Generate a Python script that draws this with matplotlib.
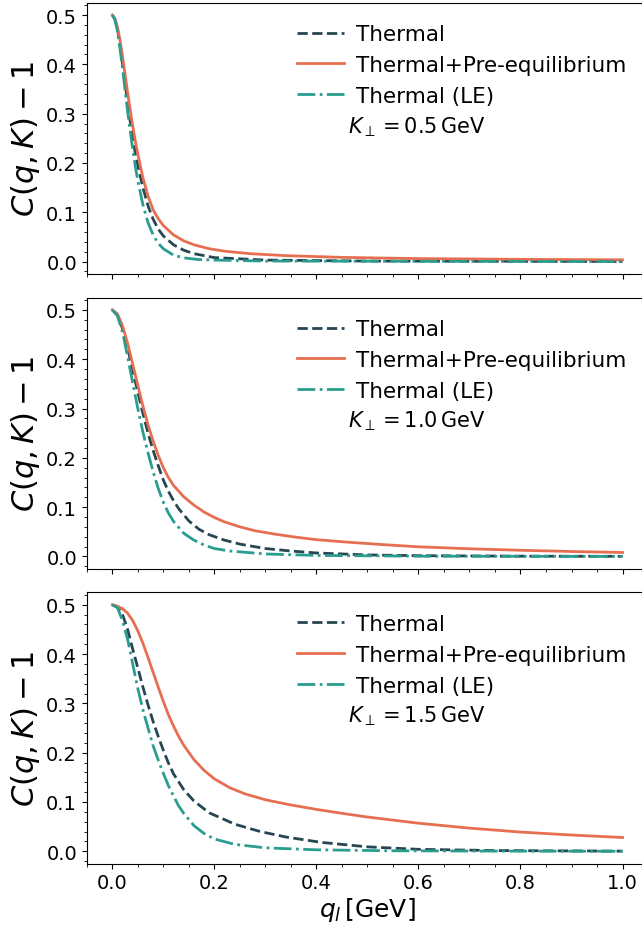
import numpy as np
import matplotlib
matplotlib.use('Agg')
import matplotlib.pyplot as plt
from matplotlib.ticker import AutoMinorLocator, MultipleLocator

# values, one panel per K_perp
k_perp = [0.5, 1.0, 1.5]
labels = ['Thermal', 'Thermal+Pre-equilibrium', 'Thermal (LE)']

# K = 0.5 GeV
q_th1 = [0, 0.005, 0.01, 0.015, 0.02, 0.025, 0.03, 0.035, 0.04, 0.045, 0.05, 0.06, 0.07, 0.08, 0.09, 0.10,
         0.12, 0.14, 0.16, 0.2, 0.3, 0.5, 1.0]
c_th1 = [0.5, 0.492, 0.472, 0.44, 0.402, 0.362, 0.322, 0.285, 0.25, 0.22, 0.195, 0.150, 0.113, 0.086, 0.066, 0.052,
         0.034, 0.023, 0.016, 0.008, 0.003, 0.001, 0.0002]
q_pre1 = [0, 0.005, 0.01, 0.015, 0.02, 0.025, 0.03, 0.035, 0.04, 0.045, 0.05, 0.06, 0.07, 0.08, 0.09, 0.10,
          0.12, 0.14, 0.16, 0.19, 0.22, 0.27, 0.34, 0.45, 0.6, 0.8, 1.0]
c_pre1 = [0.5, 0.493, 0.476, 0.45, 0.416, 0.38, 0.343, 0.308, 0.275, 0.245, 0.218, 0.170, 0.133, 0.105, 0.087, 0.073,
          0.054, 0.042, 0.034, 0.026, 0.021, 0.016, 0.012, 0.0085, 0.006, 0.0045, 0.0035]
q_le1 = [0, 0.005, 0.01, 0.015, 0.02, 0.025, 0.03, 0.035, 0.04, 0.045, 0.05, 0.06, 0.07, 0.08, 0.09, 0.10,
         0.12, 0.14, 0.17, 0.2, 0.3, 1.0]
c_le1 = [0.5, 0.491, 0.468, 0.433, 0.392, 0.348, 0.305, 0.265, 0.228, 0.194, 0.164, 0.115, 0.079, 0.054, 0.037, 0.026,
         0.013, 0.0075, 0.004, 0.003, 0.001, 0.0]

# K = 1.0 GeV
q_th2 = [0, 0.01, 0.02, 0.03, 0.04, 0.05, 0.06, 0.07, 0.08, 0.09, 0.10, 0.11, 0.12, 0.13, 0.15, 0.17, 0.19,
         0.22, 0.25, 0.30, 0.35, 0.40, 0.5, 0.6, 0.8, 1.0]
c_th2 = [0.5, 0.49, 0.462, 0.422, 0.378, 0.333, 0.29, 0.25, 0.215, 0.184, 0.155, 0.132, 0.113, 0.097, 0.072, 0.055, 0.044,
         0.033, 0.025, 0.016, 0.011, 0.007, 0.003, 0.0015, 0.0005, 0.0002]
q_pre2 = [0, 0.01, 0.02, 0.03, 0.04, 0.05, 0.06, 0.07, 0.08, 0.09, 0.10, 0.11, 0.12, 0.14, 0.16, 0.18, 0.20,
          0.22, 0.25, 0.28, 0.32, 0.36, 0.40, 0.46, 0.53, 0.6, 0.7, 0.8, 0.9, 1.0]
c_pre2 = [0.5, 0.492, 0.468, 0.432, 0.39, 0.347, 0.305, 0.267, 0.234, 0.205, 0.180, 0.160, 0.144, 0.121, 0.104, 0.090, 0.079,
          0.070, 0.060, 0.052, 0.045, 0.039, 0.034, 0.029, 0.024, 0.0195, 0.0155, 0.0125, 0.010, 0.008]
q_le2 = [0, 0.01, 0.02, 0.03, 0.04, 0.05, 0.06, 0.07, 0.08, 0.09, 0.10, 0.11, 0.12, 0.14, 0.16, 0.18, 0.2,
         0.23, 0.3, 0.4, 0.6, 1.0]
c_le2 = [0.5, 0.488, 0.455, 0.405, 0.352, 0.30, 0.252, 0.21, 0.172, 0.138, 0.11, 0.088, 0.071, 0.047, 0.033, 0.023, 0.016,
         0.011, 0.005, 0.002, 0.0005, 0.0]

# K = 1.5 GeV
q_th3 = [0, 0.01, 0.02, 0.03, 0.04, 0.05, 0.06, 0.07, 0.08, 0.09, 0.10, 0.11, 0.12, 0.14, 0.16, 0.19, 0.24,
         0.29, 0.34, 0.41, 0.5, 0.6, 0.75, 1.0]
c_th3 = [0.5, 0.496, 0.48, 0.45, 0.41, 0.372, 0.333, 0.297, 0.263, 0.233, 0.205, 0.179, 0.157, 0.125, 0.102, 0.078, 0.055,
         0.040, 0.029, 0.018, 0.009, 0.004, 0.0015, 0.0003]
q_pre3 = [0, 0.01, 0.02, 0.03, 0.04, 0.05, 0.06, 0.07, 0.08, 0.09, 0.10, 0.11, 0.12, 0.13, 0.14, 0.16, 0.18,
          0.20, 0.23, 0.26, 0.30, 0.35, 0.40, 0.45, 0.50, 0.6, 0.7, 0.8, 0.9, 1.0]
c_pre3 = [0.5, 0.497, 0.492, 0.483, 0.468, 0.447, 0.422, 0.393, 0.363, 0.333, 0.304, 0.277, 0.254, 0.233, 0.215, 0.186, 0.164,
          0.147, 0.129, 0.1165, 0.1045, 0.094, 0.085, 0.077, 0.0695, 0.057, 0.047, 0.039, 0.033, 0.028]
q_le3 = [0, 0.01, 0.02, 0.03, 0.04, 0.05, 0.06, 0.07, 0.08, 0.09, 0.10, 0.11, 0.12, 0.13, 0.14, 0.16, 0.18,
         0.2, 0.24, 0.30, 0.40, 0.55, 0.7, 1.0]
c_le3 = [0.5, 0.494, 0.468, 0.43, 0.38, 0.33, 0.287, 0.25, 0.214, 0.185, 0.158, 0.133, 0.112, 0.092, 0.077, 0.052, 0.036,
         0.025, 0.014, 0.007, 0.003, 0.001, 0.0005, 0.0]

thermal = [(q_th1, c_th1), (q_th2, c_th2), (q_th3, c_th3)]
pre = [(q_pre1, c_pre1), (q_pre2, c_pre2), (q_pre3, c_pre3)]
le = [(q_le1, c_le1), (q_le2, c_le2), (q_le3, c_le3)]

fig, axs = plt.subplots(3, 1, figsize=(6.42, 9.28), dpi=100, sharex=True)
fig.subplots_adjust(left=0.1352, right=1.0094, bottom=0.0683, top=0.996, hspace=0.0874)

for i, ax in enumerate(axs):
    ax.plot(*thermal[i], '--', color='#264653', lw=2, label=labels[0])
    ax.plot(*pre[i], '-', color='#e76f51', lw=2, label=labels[1])
    ax.plot(*le[i], '-.', color='#2a9d8f', lw=2, label=labels[2])
    ax.set_xlim(-0.05, 1.05)
    ax.set_ylim(-0.025, 0.525)
    ax.yaxis.set_major_locator(MultipleLocator(0.1))
    ax.xaxis.set_minor_locator(AutoMinorLocator(4))
    ax.yaxis.set_minor_locator(AutoMinorLocator(5))
    ax.tick_params(labelsize=14)
    ax.set_ylabel(r'$C(q,K)-1$', fontsize=22)
    ax.yaxis.set_label_coords(-0.08, 0.5)
    ax.legend(loc='upper right', frameon=False, fontsize=15.5, handlelength=2.2,
              handletextpad=0.55, borderaxespad=0.6)
    ax.text(0.466, 0.546, r'$K_\perp = %.1f\,\mathrm{GeV}$' % k_perp[i],
            transform=ax.transAxes, fontsize=15, ha='left', va='center')

axs[-1].set_xlabel(r'$q_l\,[\mathrm{GeV}]$', fontsize=18, labelpad=2)

plt.savefig('out.png', dpi=100)
